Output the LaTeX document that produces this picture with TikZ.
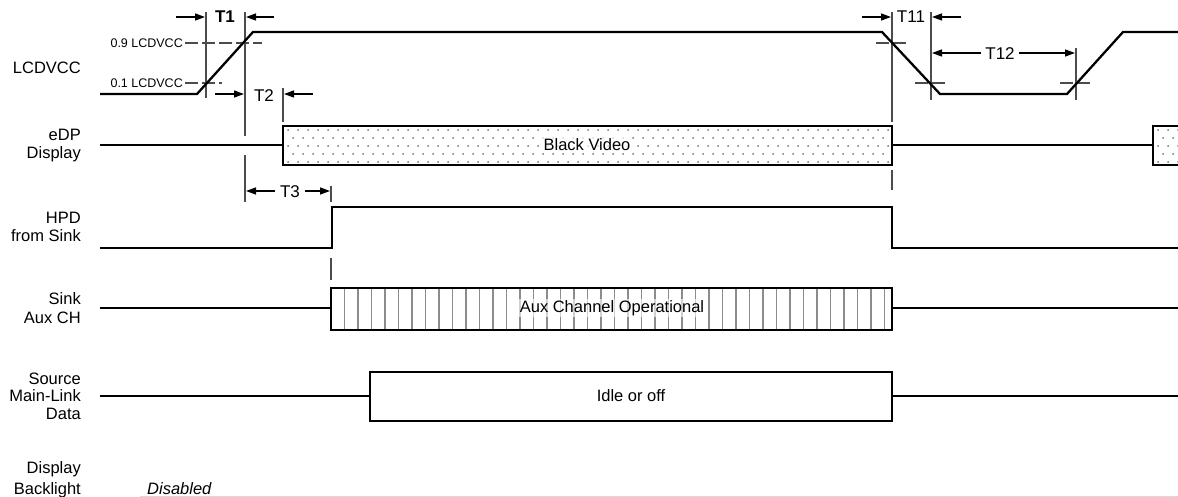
\documentclass[tikz,border=0pt]{standalone}
\usepackage{fontspec}
\setmainfont{Liberation Sans}
\usetikzlibrary{arrows.meta}
\begin{document}
\begin{tikzpicture}[x=1pt,y=-1pt,
  sig/.style={line width=2.3pt, line join=miter},
  boxs/.style={line width=2.6pt, line join=miter},
  guide/.style={line width=1.5pt, black!70},
  thr/.style={line width=1.3pt, black!70, dash pattern=on 13pt off 4pt},
  dimar/.style={line width=1.3pt, -{Triangle[length=10pt,width=7pt]}},
  lab/.style={font=\fontsize{16.5}{18}\selectfont, anchor=base east, inner sep=0},
  small/.style={font=\fontsize{12.5}{13}\selectfont, anchor=base east, inner sep=0},
  tl/.style={font=\fontsize{17}{18}\selectfont, inner sep=0},
  boxtext/.style={font=\fontsize{16.5}{18}\selectfont, inner sep=0}]
\useasboundingbox (0,0) rectangle (1178,497);
\clip (0,0) rectangle (1178,497);

% ---- left labels
\node[lab] (l1) at (81,74) {LCDVCC};
\node[lab] (l2a) at (81,141) {eDP};
\node[lab] (l2b) at (81,159) {Display};
\node[lab] (l3a) at (81,224) {HPD};
\node[lab] (l3b) at (81,242) {from Sink};
\node[lab] (l4a) at (81,304) {Sink};
\node[lab] (l4b) at (81,323) {Aux CH};
\node[lab] (l5a) at (81,384) {Source};
\node[lab] (l5b) at (81,401) {Main-Link};
\node[lab] (l5c) at (81,419) {Data};
\node[lab] (l6a) at (81,473) {Display};
\node[lab] (l6b) at (81,494) {Backlight};
\node[font=\fontsize{16.5}{18}\selectfont\itshape, anchor=base west, inner sep=0] (dis) at (147,494) {Disabled};

% ---- thresholds
\node[small] (t9) at (183,47.5) {0.9 LCDVCC};
\node[small] (t1) at (183,87.5) {0.1 LCDVCC};
\draw[thr] (185,43) -- (262,43);
\draw[thr] (185,83) -- (222,83);
\draw[thr] (876,43) -- (908,43);
\draw[thr] (915,83) -- (947,83);
\draw[thr] (1060,83) -- (1092,83);

% ---- guide verticals
\draw[guide] (206,12) -- (206,98);
\draw[guide] (245,12) -- (245,136);
\draw[guide] (245,155) -- (245,202);
\draw[guide] (283,88) -- (283,122);
\draw[guide] (331,186) -- (331,202);
\draw[guide] (331,258) -- (331,280);
\draw[guide] (892,12) -- (892,122);
\draw[guide] (892,170) -- (892,190);
\draw[guide] (931,12) -- (931,100);
\draw[guide] (1076,48) -- (1076,100);

% ---- timing labels and arrows
\node[tl, font=\fontsize{17}{18}\selectfont\bfseries] (T1) at (225,17) {T1};
\coordinate (a1s) at (176,17); \coordinate (a1e) at (205,17);
\coordinate (b1s) at (274,17); \coordinate (b1e) at (246,17);
\draw[dimar] (a1s) -- (a1e);
\draw[dimar] (b1s) -- (b1e);

\node[tl] (T2) at (264,96) {T2};
\coordinate (a2s) at (215,94); \coordinate (a2e) at (244,94);
\coordinate (b2s) at (313,94); \coordinate (b2e) at (284,94);
\draw[dimar] (a2s) -- (a2e);
\draw[dimar] (b2s) -- (b2e);

\node[tl] (T3) at (290,192) {T3};
\coordinate (a3s) at (275,191); \coordinate (a3e) at (246,191);
\coordinate (b3s) at (305,191); \coordinate (b3e) at (330,191);
\draw[dimar] (a3s) -- (a3e);
\draw[dimar] (b3s) -- (b3e);

\node[tl] (T11) at (911,17) {T11};
\coordinate (a11s) at (862,17); \coordinate (a11e) at (891,17);
\coordinate (b11s) at (961,17); \coordinate (b11e) at (932,17);
\draw[dimar] (a11s) -- (a11e);
\draw[dimar] (b11s) -- (b11e);

\node[tl] (T12) at (1000,54) {T12};
\coordinate (a12s) at (981,53); \coordinate (a12e) at (932,53);
\coordinate (b12s) at (1019,53); \coordinate (b12e) at (1075,53);
\draw[dimar] (a12s) -- (a12e);
\draw[dimar] (b12s) -- (b12e);

% ---- LCDVCC
\draw[sig] (100,94) -- (197,94) -- (253,32) -- (882,32) -- (940,94) -- (1067,94) -- (1123,32) -- (1180,32);

% ---- eDP display
\draw[sig] (100,145) -- (283,145);
\draw[sig] (892,145) -- (1153,145);
\begin{scope}
  \clip (283,126) rectangle (892,165);
  \foreach \r in {0,...,4} {
    \pgfmathsetmacro{\yy}{130+\r*8}
    \pgfmathsetmacro{\off}{mod(\r,2)*5}
    \foreach \c in {0,...,61} {
      \fill[black!55] (288+\off+\c*10,\yy) circle (1pt);
    }
  }
\end{scope}
\begin{scope}
  \clip (1153,126) rectangle (1190,165);
  \foreach \r in {0,...,4} {
    \pgfmathsetmacro{\yy}{130+\r*8}
    \pgfmathsetmacro{\off}{mod(\r,2)*5}
    \foreach \c in {0,...,3} {
      \fill[black!55] (1158+\off+\c*10,\yy) circle (1pt);
    }
  }
\end{scope}
\draw[boxs] (283,126) rectangle (892,165);
\draw[boxs] (1153,126) rectangle (1195,165);
\node[boxtext, fill=white, fill opacity=0.7, text opacity=1, inner sep=2pt] (bv) at (587,145) {Black Video};

% ---- HPD
\draw[sig] (100,248) -- (332,248) -- (332,207) -- (892,207) -- (892,248) -- (1180,248);

% ---- Sink Aux CH
\draw[sig] (100,308) -- (331,308);
\draw[sig] (892,308) -- (1180,308);
\foreach \k in {1,...,41} {
  \draw[line width=1.4pt, black!45] (331+\k*13.5,288) -- (331+\k*13.5,330);
}
\draw[boxs] (331,288) rectangle (892,330);
\node[boxtext, fill=white, fill opacity=0.6, text opacity=1, inner sep=1pt] (aux) at (612,308) {Aux Channel Operational};

% ---- Source main link
\draw[sig] (100,396) -- (370,396);
\draw[sig] (892,396) -- (1180,396);
\draw[boxs] (370,372) rectangle (892,421);
\node[boxtext] (idle) at (631,396) {Idle or off};

% ---- bottom edge
\draw[line width=1pt, black!15] (140,496) -- (1178,496);
\end{tikzpicture}
\end{document}
